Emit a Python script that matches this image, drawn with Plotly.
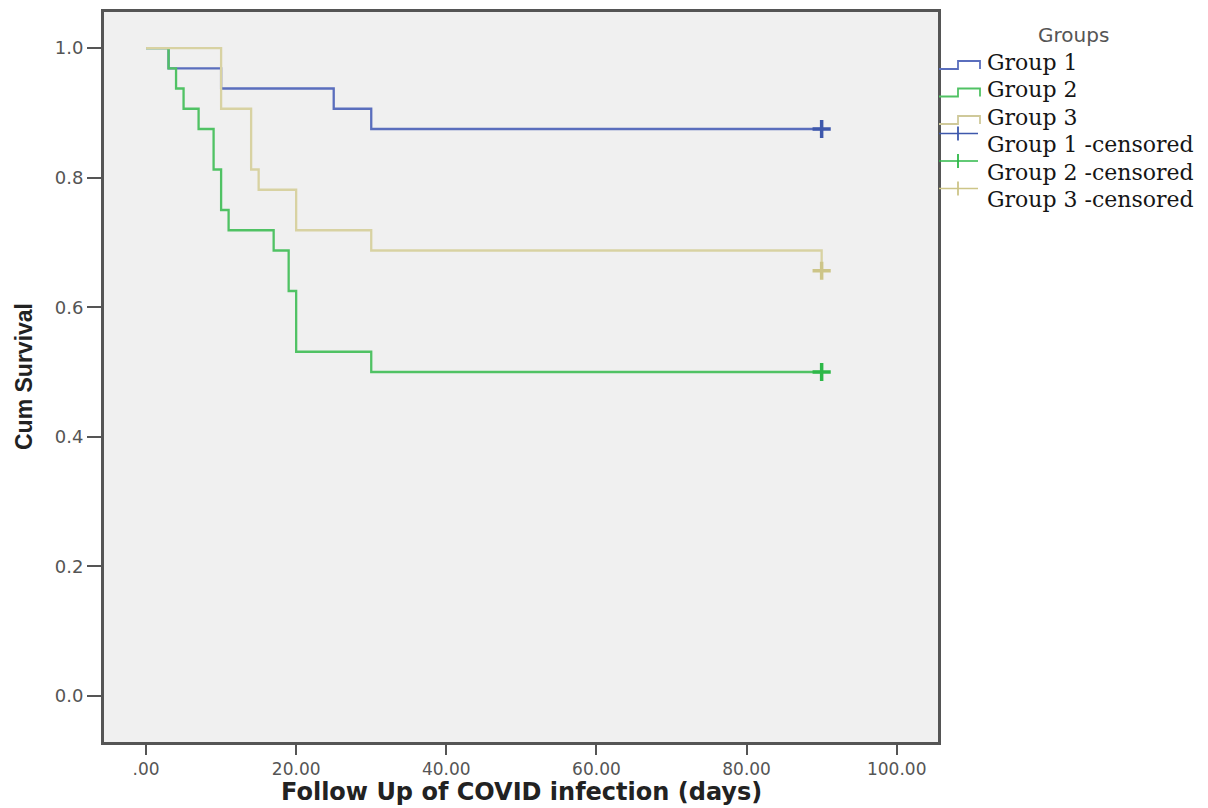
import plotly.graph_objects as go

# Kaplan-Meier step data (days, cumulative survival)
g1_days = [0, 3, 10, 25, 30, 90]
g1_surv = [1.0, 0.96875, 0.9375, 0.90625, 0.875, 0.875]

g2_days = [0, 3, 4, 5, 7, 9, 10, 11, 17, 19, 20, 30, 90]
g2_surv = [1.0, 0.96875, 0.9375, 0.90625, 0.875, 0.8125, 0.75, 0.71875, 0.6875, 0.625, 0.53125, 0.5, 0.5]

g3_days = [0, 10, 14, 15, 20, 30, 90]
g3_surv = [1.0, 0.90625, 0.8125, 0.78125, 0.71875, 0.6875, 0.65625]

cens_days = [90, 90, 90]
cens_surv = [0.875, 0.5, 0.65625]

x_tickvals = [0, 20, 40, 60, 80, 100]
x_ticktext = [".00", "20.00", "40.00", "60.00", "80.00", "100.00"]
y_tickvals = [0.0, 0.2, 0.4, 0.6, 0.8, 1.0]
y_ticktext = ["0.0", "0.2", "0.4", "0.6", "0.8", "1.0"]

names = ["Group 1", "Group 2", "Group 3"]
legend_labels = ["Group 1", "Group 2", "Group 3",
                 "Group 1 -censored", "Group 2 -censored", "Group 3 -censored"]

line_cols = ["#5a6ebd", "#50c264", "#d8d2a2"]
mark_cols = ["#3e58ac", "#2eb848", "#cdc588"]

# page body has an 8px margin; lay out in screen pixels then offset
OFF = 8
W, H = 1200, 800
L, R, T, B = 104 - OFF, 938 - OFF, 12 - OFF, 742 - OFF


def px(x):
    return (x - OFF - L) / (R - L)


def py(y):
    return (B - (y - OFF)) / (B - T)


fig = go.Figure()
for days, surv, col, nm in zip([g1_days, g2_days, g3_days], [g1_surv, g2_surv, g3_surv], line_cols, names):
    fig.add_trace(go.Scatter(x=days, y=surv, mode="lines", line=dict(shape="hv", color=col, width=2.3),
                             name=nm, showlegend=False))
for i in range(3):
    fig.add_trace(go.Scatter(x=[cens_days[i]], y=[cens_surv[i]], mode="markers",
                             marker=dict(symbol="cross-thin", size=13,
                                         line=dict(color=mark_cols[i], width=3.5)),
                             name=names[i] + " -censored", showlegend=False))

# manual legend (SPSS style)
shapes = []
annotations = []
row_y = [62, 89.5, 117, 144.5, 172, 199.5]
for i in range(3):
    yb = row_y[i] + 7
    yt = row_y[i] - 1
    path = "M {:.5f},{:.5f} L {:.5f},{:.5f} L {:.5f},{:.5f} L {:.5f},{:.5f} L {:.5f},{:.5f}".format(
        px(939), py(yb), px(958), py(yb), px(958), py(yt), px(980), py(yt), px(980), py(yb))
    shapes.append(dict(type="path", path=path, xref="paper", yref="paper",
                       line=dict(color=line_cols[i] if i != 2 else "#cfc99a", width=1.8)))
for i in range(3):
    yl = row_y[3 + i] - 11
    shapes.append(dict(type="line", xref="paper", yref="paper", x0=px(939), x1=px(978),
                       y0=py(yl), y1=py(yl), line=dict(color=mark_cols[i], width=1.5)))
    shapes.append(dict(type="line", xref="paper", yref="paper", x0=px(958), x1=px(958),
                       y0=py(yl - 7), y1=py(yl + 7), line=dict(color=mark_cols[i], width=1.8)))
for i, lab in enumerate(legend_labels):
    annotations.append(dict(text=lab, x=px(985), y=py(row_y[i]), xref="paper", yref="paper",
                            xanchor="left", yanchor="middle", showarrow=False,
                            font=dict(family="DejaVu Serif", size=22, color="#151515")))
annotations.append(dict(text="Groups", x=px(1073), y=py(35), xref="paper", yref="paper",
                        xanchor="center", yanchor="middle", showarrow=False,
                        font=dict(family="DejaVu Sans", size=20, color="#555")))
# axis titles
annotations.append(dict(text="<b>Follow Up of COVID infection (days)</b>", x=px(521), y=py(792),
                        xref="paper", yref="paper", xanchor="center", yanchor="middle",
                        showarrow=False, font=dict(family="DejaVu Sans", size=24, color="#222")))
annotations.append(dict(text="<b>Cum Survival</b>", x=px(24), y=py(377), textangle=-90,
                        xref="paper", yref="paper", xanchor="center", yanchor="middle",
                        showarrow=False, font=dict(family="Liberation Sans", size=23, color="#222")))

fig.update_layout(
    width=W, height=H,
    margin=dict(l=L, r=W - R, t=T, b=H - B),
    paper_bgcolor="white",
    plot_bgcolor="#f0f0f0",
    showlegend=False,
    shapes=shapes,
    annotations=annotations,
)
fig.update_xaxes(range=[-5.6, 105.5], tickvals=x_tickvals, ticktext=x_ticktext, automargin=False,
                 showgrid=False, zeroline=False, showline=True, mirror=True,
                 linecolor="#555", linewidth=3, ticks="outside", ticklen=10, tickwidth=2,
                 tickcolor="#555",
                 tickfont=dict(family="DejaVu Sans", size=17, color="#555"))
fig.update_yaxes(range=[-0.071, 1.0556], tickvals=y_tickvals, ticktext=y_ticktext, automargin=False,
                 showgrid=False, zeroline=False, showline=True, mirror=True,
                 linecolor="#555", linewidth=3, ticks="outside", ticklen=14, tickwidth=2,
                 tickcolor="#555",
                 tickfont=dict(family="DejaVu Sans", size=18, color="#555"))

fig.write_html("out.html")
